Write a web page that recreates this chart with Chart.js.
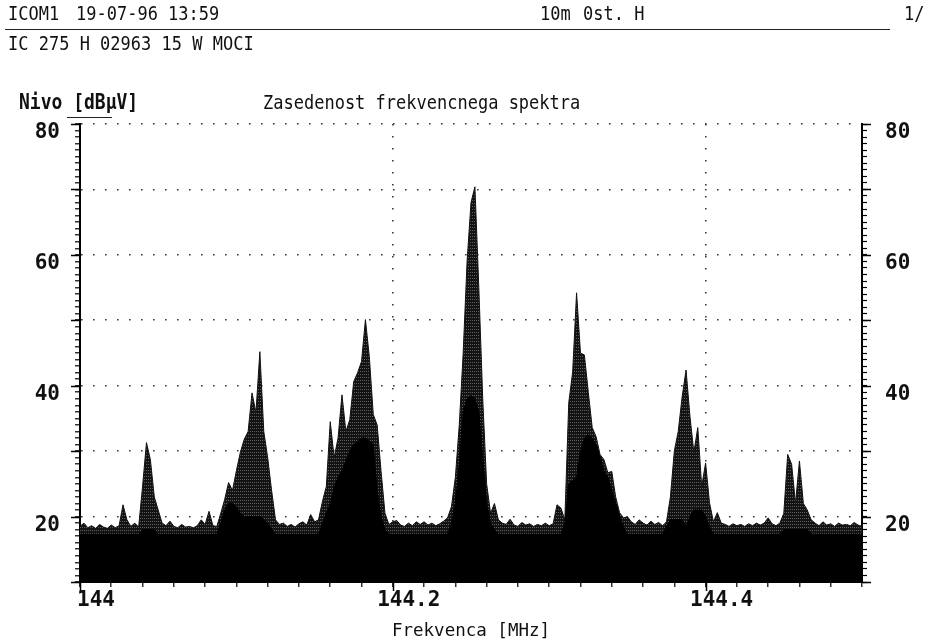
<!DOCTYPE html>
<html><head><meta charset="utf-8">
<script src="https://cdn.jsdelivr.net/npm/chart.js@4/dist/chart.umd.min.js"></script>
<style>
html,body{margin:0;padding:0;background:#fff;}
#wrap{position:relative;width:927px;height:642px;overflow:hidden;background:#fff;}
canvas{position:absolute;left:0;top:0;}
.t{position:absolute;font-family:"DejaVu Sans Mono",monospace;color:#111;white-space:pre;line-height:1;font-size:17px;transform:scaleY(1.15);transform-origin:0 0;}
.b{font-weight:bold;}
.rule{position:absolute;border-top:1.5px solid #222;height:0;}
</style></head><body>
<div id="wrap">
<canvas id="c" width="927" height="642"></canvas>
<div class="t" style="left:8px;top:4px">ICOM1</div>
<div class="t" style="left:76px;top:4px">19-07-96 13:59</div>
<div class="t" style="left:540px;top:4px">10m</div>
<div class="t" style="left:583px;top:4px">0st. H</div>
<div class="t" style="left:904px;top:4px">1/</div>
<div class="rule" style="left:5px;top:29px;width:885px"></div>
<div class="t" style="left:8px;top:34px">IC 275 H 02963 15 W MOCI</div>
<div class="t b" style="left:19px;top:92px;font-size:18px">Nivo [dBµV]</div>
<div class="rule" style="left:67px;top:117px;width:45px"></div>
<div class="t" style="left:263px;top:93px">Zasedenost frekvencnega spektra</div>
</div>
<script>
// ---- data (frequency grid start/step, level in dBµV) ----
const START_MHZ = 144.0;
const STEP_MHZ = 0.0025;
const levelMax = [
  18.5, 19.0, 18.3, 18.6, 18.2, 18.8, 18.4, 18.2, 18.7, 18.3,
  18.6, 21.8, 19.5, 18.5, 19.0, 18.4, 24.6, 31.3, 28.7, 23.0,
  21.0, 19.0, 18.6, 19.3, 18.5, 18.3, 18.8, 18.4, 18.5, 18.3,
  18.6, 19.5, 18.8, 20.8, 18.6, 18.5, 20.5, 22.6, 25.2, 24.0,
  27.0, 29.8, 31.8, 33.0, 38.9, 35.9, 45.2, 33.0, 29.0, 24.0,
  19.5, 18.8, 19.0, 18.5, 18.8, 18.4, 18.9, 19.2, 18.7, 20.3,
  19.2, 19.5, 22.3, 24.6, 34.5, 29.0, 32.0, 38.6, 33.0, 34.8,
  40.6, 42.0, 43.7, 50.1, 44.4, 35.6, 34.0, 26.9, 20.5, 18.8,
  19.2, 19.4, 18.7, 18.5, 19.0, 18.6, 19.2, 18.8, 19.2, 18.7,
  19.0, 18.6, 18.9, 19.3, 19.8, 21.5, 26.0, 34.0, 45.0, 59.0,
  68.0, 70.4, 55.0, 38.0, 25.0, 20.5, 22.0, 19.5, 19.0, 18.8,
  19.6, 18.7, 18.5, 19.1, 18.7, 18.9, 18.5, 18.8, 18.6, 19.0,
  18.6, 18.9, 21.8, 21.3, 19.5, 37.4, 42.1, 54.2, 45.0, 44.7,
  39.0, 33.6, 32.2, 29.5, 28.7, 26.7, 26.9, 23.0, 20.6, 19.8,
  20.0, 19.2, 18.8, 19.5, 19.0, 18.7, 19.3, 18.8, 19.1, 18.6,
  19.2, 23.0, 30.0, 33.0, 38.3, 42.4, 35.3, 29.8, 33.6, 24.6,
  28.2, 22.1, 19.2, 20.6, 19.0, 18.8, 18.5, 18.9, 18.6, 18.8,
  18.5, 18.9, 18.6, 19.0, 18.7, 19.0, 19.8, 18.9, 18.6, 19.0,
  20.5, 29.5, 28.0, 22.0, 28.5, 22.0, 21.0, 19.5, 19.0, 18.6,
  19.2, 18.7, 18.9, 18.5, 19.0, 18.7, 18.8, 18.6, 19.1, 18.7, 18.5
];
const levelAvg = [
  17.3, 17.3, 17.3, 17.3, 17.3, 17.3, 17.3, 17.3, 17.3, 17.3,
  17.3, 17.3, 17.3, 17.3, 17.3, 17.3, 18.0, 18.0, 18.0, 18.0,
  17.3, 17.3, 17.3, 17.3, 17.3, 17.3, 17.3, 17.3, 17.3, 17.3,
  17.3, 17.3, 17.3, 17.3, 17.3, 17.3, 19.0, 21.0, 22.0, 22.0,
  21.5, 20.5, 20.0, 20.0, 20.0, 20.0, 20.0, 19.5, 19.0, 18.0,
  17.3, 17.3, 17.3, 17.3, 17.3, 17.3, 17.3, 17.3, 17.3, 17.3,
  17.3, 17.3, 19.0, 20.5, 22.0, 24.5, 26.0, 27.0, 28.5, 30.0,
  31.0, 31.5, 32.0, 32.0, 31.5, 31.0, 24.0, 20.0, 18.0, 17.3,
  17.3, 17.3, 17.3, 17.3, 17.3, 17.3, 17.3, 17.3, 17.3, 17.3,
  17.3, 17.3, 17.3, 17.3, 17.3, 19.0, 22.0, 28.0, 36.0, 38.0,
  38.5, 38.0, 36.0, 29.0, 22.0, 19.0, 18.0, 17.3, 17.3, 17.3,
  17.3, 17.3, 17.3, 17.3, 17.3, 17.3, 17.3, 17.3, 17.3, 17.3,
  17.3, 17.3, 17.3, 17.3, 19.0, 25.0, 25.5, 26.0, 30.0, 32.0,
  32.5, 32.0, 31.0, 29.0, 27.0, 26.0, 24.0, 22.0, 20.0, 18.5,
  17.3, 17.3, 17.3, 17.3, 17.3, 17.3, 17.3, 17.3, 17.3, 17.3,
  18.5, 19.5, 19.5, 19.5, 19.5, 18.5, 20.0, 21.0, 21.0, 21.0,
  20.0, 18.5, 17.3, 17.3, 17.3, 17.3, 17.3, 17.3, 17.3, 17.3,
  17.3, 17.3, 17.3, 17.3, 17.3, 17.3, 17.3, 17.3, 17.3, 17.3,
  18.0, 18.0, 18.0, 18.0, 18.0, 18.0, 18.0, 17.3, 17.3, 17.3,
  17.3, 17.3, 17.3, 17.3, 17.3, 17.3, 17.3, 17.3, 17.3, 17.3, 17.3
];
const xTickLabels = [144, 144.2, 144.4];
const yTickLabels = [20, 40, 60, 80];
const X_MIN = 144, X_MAX = 144.5, Y_MIN = 10, Y_MAX = 80;

const freqMHz = levelMax.map((_, i) => +(START_MHZ + i * STEP_MHZ).toFixed(4));
const near = (a, b) => Math.abs(a - b) < 1e-6;

function stripePattern() {
  const c = document.createElement('canvas');
  c.width = 2; c.height = 3;
  const g = c.getContext('2d');
  g.fillStyle = '#131313'; g.fillRect(0, 0, 2, 3);
  g.fillStyle = '#5e5e5e'; g.fillRect(0, 2, 1, 1);
  return g.createPattern(c, 'repeat');
}

const FONT = '"DejaVu Sans Mono", monospace';
const tickFont = { family: FONT, size: 21, weight: 'bold' };

const majorTicks = {
  id: 'majorTicks',
  afterDraw(chart) {
    const { ctx, chartArea: a, scales } = chart;
    ctx.save();
    ctx.strokeStyle = '#000';
    ctx.lineWidth = 1.5;
    ctx.beginPath();
    xTickLabels.forEach(v => {
      const px = Math.round(scales.x.getPixelForValue(v)) + 0.5;
      ctx.moveTo(px, a.bottom); ctx.lineTo(px, a.bottom + 9);
    });
    scales.y.ticks.forEach(t => {
      if (t.value % 10 === 0) {
        const py = Math.round(scales.y.getPixelForValue(t.value)) + 0.5;
        ctx.moveTo(a.left - 9, py); ctx.lineTo(a.left, py);
        ctx.moveTo(a.right, py); ctx.lineTo(a.right + 9, py);
      }
    });
    ctx.stroke();
    ctx.restore();
  }
};

const gridCol = '#3a3a3a';
new Chart(document.getElementById('c'), {
  type: 'line',
  data: {
    datasets: [
      {
        label: 'avg',
        data: freqMHz.map((f, i) => ({ x: f, y: levelAvg[i] })),
        borderColor: '#000', borderWidth: 1, backgroundColor: '#000',
        fill: 'start', pointRadius: 0, tension: 0
      },
      {
        label: 'max',
        data: freqMHz.map((f, i) => ({ x: f, y: levelMax[i] })),
        borderColor: '#111', borderWidth: 1, backgroundColor: stripePattern(),
        fill: 'start', pointRadius: 0, tension: 0
      }
    ]
  },
  options: {
    responsive: false,
    animation: false,
    devicePixelRatio: 1,
    layout: { padding: { top: 124, left: 0, right: 0, bottom: 0 } },
    plugins: { legend: { display: false }, tooltip: { enabled: false }, title: { display: false } },
    scales: {
      x: {
        type: 'linear', position: 'bottom', min: X_MIN, max: X_MAX,
        afterFit: s => { s.height = 60; },
        afterBuildTicks: s => { s.ticks = s.ticks.filter(t => t.value <= X_MAX + 1e-9); },
        ticks: {
          stepSize: 0.02, autoSkip: false, maxRotation: 0, minRotation: 0,
          font: tickFont, color: '#111', padding: 1, labelOffset: 16,
          callback: v => { const m = xTickLabels.find(l => near(l, v)); return m === undefined ? '' : String(m); }
        },
        grid: {
          drawOnChartArea: true, tickLength: 5, lineWidth: 1.6, tickWidth: 1.2, tickColor: '#000',
          color: c => (c.tick && c.tick.value > X_MIN + 1e-6 && c.tick.value < X_MAX - 1e-6 && xTickLabels.some(l => near(l, c.tick.value))) ? gridCol : 'rgba(0,0,0,0)'
        },
        border: { display: true, color: '#000', width: 2, dash: [1.6, 10.4] },
        title: { display: true, text: 'Frekvenca [MHz]', font: { family: FONT, size: 17.5 }, color: '#111', padding: { top: 0, bottom: 0 } }
      },
      y: {
        type: 'linear', position: 'left', min: Y_MIN, max: Y_MAX,
        afterFit: s => { s.width = 80; },
        ticks: {
          stepSize: 1, autoSkip: false, font: tickFont, color: '#111', padding: 15, labelOffset: 9,
          callback: v => yTickLabels.includes(v) ? String(v) : ''
        },
        grid: {
          tickLength: 5, lineWidth: 1.6, tickWidth: 1.2, tickColor: '#000',
          color: c => (c.tick && c.tick.value % 10 === 0 && c.tick.value > Y_MIN) ? gridCol : 'rgba(0,0,0,0)'
        },
        border: { display: true, color: '#000', width: 2, dash: [1.6, 10.4] }
      },
      y2: {
        type: 'linear', position: 'right', min: Y_MIN, max: Y_MAX,
        afterFit: s => { s.width = 65; },
        ticks: {
          stepSize: 1, autoSkip: false, font: tickFont, color: '#111', padding: 18, labelOffset: 9,
          callback: v => yTickLabels.includes(v) ? String(v) : ''
        },
        grid: { drawOnChartArea: false, tickLength: 5, tickWidth: 1.2, tickColor: '#000' },
        border: { display: true, color: '#000', width: 2 }
      }
    }
  },
  plugins: [majorTicks]
});
</script>
</body></html>
